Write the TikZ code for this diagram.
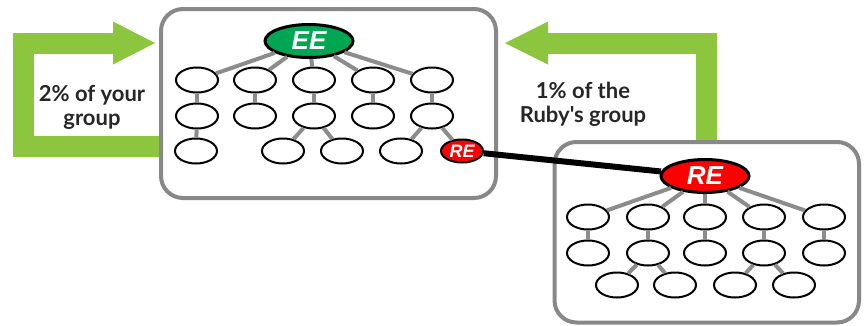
\documentclass[tikz,border=0pt]{standalone}
\usepackage{fontspec}
\usetikzlibrary{shapes.geometric}
\newfontfamily\lblfont{Lato}
\newfontfamily\refont{Liberation Sans}
\definecolor{arrowgreen}{HTML}{8CC63E}
\definecolor{eegreen}{HTML}{00A651}
\definecolor{rered}{HTML}{FF0000}
\definecolor{boxgray}{HTML}{888888}
\definecolor{treegray}{HTML}{8C8C8C}
\definecolor{txtdark}{HTML}{262626}
\tikzset{
  member/.style={ellipse, draw=black, line width=2pt, fill=white, inner sep=0pt, minimum width=42pt, minimum height=25pt},
  leader/.style={ellipse, draw=black, line width=3pt, inner sep=0pt, minimum width=88pt, minimum height=33pt, text=white, font=\refont\bfseries\itshape\fontsize{26}{26}\selectfont},
  smallre/.style={ellipse, draw=black, line width=2pt, fill=rered, inner sep=0pt, minimum width=42pt, minimum height=23pt, text=white, font=\refont\bfseries\itshape\fontsize{18}{18}\selectfont},
  groupbox/.style={draw=boxgray, line width=4pt, fill=white, rounded corners=22pt},
  treeline/.style={draw=treegray, line width=4pt},
  greenarrow/.style={draw=arrowgreen, line width=21pt, line join=miter},
  greenhead/.style={fill=arrowgreen, draw=none},
  caption/.style={align=center, text=txtdark, inner sep=0pt, font=\lblfont\bfseries\fontsize{22}{24}\selectfont}
}
\begin{document}
\begin{tikzpicture}[x=1pt, y=-1pt]
\useasboundingbox (0,0) rectangle (866,325);
% green arrows
\coordinate (lstart) at (165,146);
\coordinate (lc1) at (23.5,146);
\coordinate (lc2) at (23.5,43);
\coordinate (lend) at (114,43);
\draw[greenarrow] (lstart) -- (lc1) -- (lc2) -- (lend);
\fill[greenhead] (113,21.5) -- (155,43) -- (113,64.5) -- cycle;
\coordinate (rstart) at (706.5,150);
\coordinate (rc1) at (706.5,43);
\coordinate (rend) at (547,43);
\draw[greenarrow] (rstart) -- (rc1) -- (rend);
\fill[greenhead] (548,21.5) -- (505,43) -- (548,64.5) -- cycle;
% boxes
\draw[groupbox] (161,9) rectangle (496,198);
\draw[groupbox] (554.5,142) rectangle (859,322.5);
% captions
\node[caption] (capl) at (92,107.5) {2\% of your\\group};
\node[caption] (capr) at (583,104.5) {1\% of the\\Ruby's group};
% left tree
\node[leader, fill=eegreen] (EE) at (309,41) {EE};
\foreach \x [count=\i] in {197,255,314,373,432} {
  \node[member] (a\i) at (\x,80) {};
  \node[member] (b\i) at (\x,116) {};
}
\node[member] (c1) at (196,151) {};
\node[member] (c2) at (283,151) {};
\node[member] (c3) at (342,151) {};
\node[member] (c4) at (401,151) {};
\node[smallre] (res) at (462,151) {RE};
% right tree
\node[leader, fill=rered] (RE) at (705,176) {RE};
\foreach \x [count=\i] in {588,648,705,764,824} {
  \node[member] (d\i) at (\x,217) {};
  \node[member] (e\i) at (\x,253) {};
}
\node[member] (f1) at (617,285) {};
\node[member] (f2) at (675,285) {};
\node[member] (f3) at (735,285) {};
\node[member] (f4) at (794,285) {};
% tree lines (drawn between borders)
\foreach \i in {1,...,5} {
  \draw[treeline] (EE) -- (a\i);
  \draw[treeline] (a\i) -- (b\i);
  \draw[treeline] (RE) -- (d\i);
  \draw[treeline] (d\i) -- (e\i);
}
\draw[treeline] (b1) -- (c1);
\draw[treeline] (b3) -- (c2);
\draw[treeline] (b3) -- (c3);
\draw[treeline] (b5) -- (c4);
\draw[treeline] (b5) -- (res);
\draw[treeline] (e2) -- (f1);
\draw[treeline] (e2) -- (f2);
\draw[treeline] (e4) -- (f3);
\draw[treeline] (e4) -- (f4);
% sponsor link
\draw[black, line width=6pt] (res) -- (RE);
\end{tikzpicture}
\end{document}
